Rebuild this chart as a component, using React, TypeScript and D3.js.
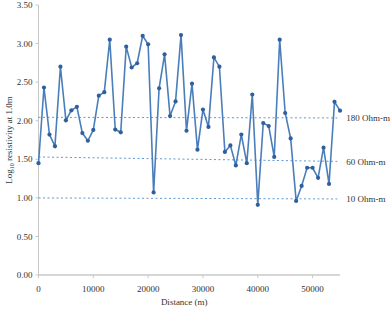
import React from "react";
import * as d3 from "d3";

// Sounding positions along the profile (m) and log10 apparent resistivity at 1.0 m
const distance = d3.range(0, 55001, 1000);
const logResistivity = [
  1.45, 2.43, 1.82, 1.67, 2.70, 2.005, 2.135, 2.18, 1.84, 1.74,
  1.88, 2.325, 2.37, 3.05, 1.885, 1.85, 2.96, 2.69, 2.745, 3.10,
  2.99, 1.07, 2.42, 2.86, 2.06, 2.25, 3.11, 1.87, 2.48, 1.625,
  2.145, 1.92, 2.82, 2.70, 1.595, 1.68, 1.42, 1.82, 1.45, 2.34,
  0.91, 1.97, 1.93, 1.53, 3.05, 2.10, 1.77, 0.96, 1.155, 1.39,
  1.39, 1.26, 1.65, 1.18, 2.245, 2.13,
];

// Reference resistivity levels: label, value at start and end of profile
const refLabels = ["180 Ohm-m", "60 Ohm-m", "10 Ohm-m"];
const refStart = [2.044, 1.53, 0.999];
const refEnd = [2.036, 1.473, 0.986];
const refExtent = [0, 54500];

const yTicks = [0, 0.5, 1, 1.5, 2, 2.5, 3, 3.5];
const xTicks = [0, 10000, 20000, 30000, 40000, 50000];

export default function App() {
  const width = 391;
  const height = 317;
  const margin = { left: 38.5, right: 51, top: 5, bottom: 42 };
  const x = d3.scaleLinear().domain([0, 55000]).range([margin.left, width - margin.right]);
  const y = d3.scaleLinear().domain([0, 3.5]).range([height - margin.bottom, margin.top]);

  const line = d3
    .line<number>()
    .x((_, i) => x(distance[i]))
    .y((d) => y(d));

  const font = "'Liberation Serif', 'DejaVu Serif', serif";
  const axisColor = "#c8c8c8";
  const textColor = "#333";

  return (
    <svg
      width={width}
      height={height}
      style={{ position: "absolute", left: 0, top: 0, background: "#fff" }}
      fontFamily={font}
    >
      {/* y axis */}
      <line x1={x(0)} x2={x(0)} y1={y(0)} y2={y(3.5)} stroke={axisColor} strokeWidth={1} />
      {yTicks.map((t) => (
        <g key={t}>
          <line x1={x(0) - 3} x2={x(0)} y1={y(t)} y2={y(t)} stroke={axisColor} />
          <text
            x={x(0) - 6}
            y={y(t)}
            dy="0.35em"
            textAnchor="end"
            fontSize={9}
            fill={textColor}
          >
            {d3.format(".2f")(t)}
          </text>
        </g>
      ))}

      {/* x axis */}
      <line x1={x(0)} x2={x(55000)} y1={y(0)} y2={y(0)} stroke={axisColor} strokeWidth={1.5} />
      {xTicks.map((t) => (
        <g key={t}>
          <line x1={x(t)} x2={x(t)} y1={y(0)} y2={y(0) + 3} stroke={axisColor} />
          <text x={x(t)} y={y(0) + 17} textAnchor="middle" fontSize={9} fill={textColor}>
            {t}
          </text>
        </g>
      ))}

      {/* axis titles */}
      <text x={x(27500) - 5} y={305} textAnchor="middle" fontSize={9} fill={textColor}>
        Distance (m)
      </text>
      <text
        transform={`translate(12, ${y(1.75)}) rotate(-90)`}
        textAnchor="middle"
        fontSize={9}
        fill={textColor}
      >
        Log
        <tspan fontSize={6} dy={2}>10</tspan>
        <tspan dy={-2}> resistivity at 1.0m</tspan>
      </text>

      {/* reference levels */}
      {refLabels.map((lab, i) => (
        <g key={lab}>
          <line
            x1={x(refExtent[0])}
            x2={x(refExtent[1])}
            y1={y(refStart[i])}
            y2={y(refEnd[i])}
            stroke="#5b9bd5"
            strokeWidth={1}
            strokeDasharray="2,2.5"
          />
          <text
            x={x(refExtent[1]) + 9}
            y={y(refEnd[i])}
            dy="0.35em"
            fontSize={9}
            fill={textColor}
          >
            {lab}
          </text>
        </g>
      ))}

      {/* resistivity profile */}
      <path d={line(logResistivity) ?? ""} fill="none" stroke="#4a7ebb" strokeWidth={1.6} />
      {logResistivity.map((v, i) => (
        <circle key={i} cx={x(distance[i])} cy={y(v)} r={2.1} fill="#2f5f9e" />
      ))}
    </svg>
  );
}
